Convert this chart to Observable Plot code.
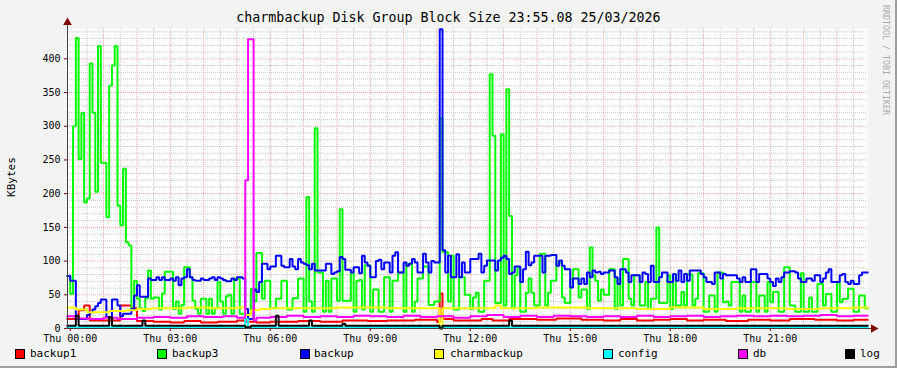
<!DOCTYPE html>
<html><head><meta charset="utf-8">
<script src="https://cdn.jsdelivr.net/npm/d3@7"></script>
<script src="https://cdn.jsdelivr.net/npm/@observablehq/plot@0.6"></script>
<style>
html,body{margin:0;padding:0;background:#f3f3f3;}
#wrap{position:relative;width:897px;height:368px;background:#f3f3f3;overflow:hidden;font-family:"DejaVu Sans Mono",monospace;color:#000;}
#chart{position:absolute;left:0;top:0;}
#title{position:absolute;left:0;top:10px;width:897px;text-align:center;font-size:13.3px;line-height:16px;white-space:pre;}
#ylab{position:absolute;left:11px;top:177px;font-size:11px;transform:translate(-50%,-50%) rotate(-90deg);white-space:pre;}
#rrd{position:absolute;left:886px;top:60px;font-size:8.3px;color:#ababab;transform:translate(-50%,-50%) rotate(90deg);white-space:pre;}
.sq{position:absolute;top:349px;width:8px;height:8px;border:1px solid #000;}
.lt{position:absolute;top:346px;font-size:11px;line-height:16px;white-space:pre;}
#bb{position:absolute;left:0;top:366px;width:897px;height:2px;background:#9e9e9e;}
#rb{position:absolute;left:895px;top:0;width:2px;height:368px;background:#9e9e9e;}
</style></head><body>
<div id="wrap">
  <div id="chart"></div>
  <div id="title">charmbackup Disk Group Block Size 23:55.08 25/03/2026</div>
  <div id="ylab">KBytes</div>
  <div id="rrd">RRDTOOL / TOBI OETIKER</div>
  <div id="legend"></div>
  <div id="bb"></div><div id="rb"></div>
</div>
<script>
// ---------- DATA ----------
// 5-minute samples, first covers 23:55-00:00, then one row per hour
const backup3 = [78,
 51,300,431,251,320,187,193,393,320,203,419,246,
 246,165,360,390,419,182,153,237,128,123,29,71,
 44,30,26,45,86,44,46,46,28,52,84,84,
 84,29,40,22,35,91,91,76,41,29,22,44,
 44,22,44,22,30,69,40,22,48,50,22,74,
 74,22,22,20,22,59,40,112,112,44,71,71,
 30,30,44,44,71,71,28,28,45,45,74,74,
 25,195,40,25,297,83,83,25,71,25,74,74,
 41,177,41,41,41,83,25,71,72,28,94,94,
 25,58,58,25,25,76,76,25,71,71,83,83,
 25,96,96,25,40,74,74,92,92,35,35,40,
 40,312,113,113,40,108,28,28,76,76,50,50,
 29,46,53,25,25,71,71,377,286,38,38,288,
 34,355,167,30,79,91,25,25,53,74,53,34,
 34,111,111,34,53,71,71,98,98,46,38,38,
 74,88,88,46,58,58,29,120,79,71,41,58,
 50,50,88,88,29,74,34,103,103,44,34,79,
 79,34,34,69,29,44,44,150,38,38,38,79,
 29,80,34,34,54,34,80,80,34,44,82,82,
 25,25,49,49,25,83,83,39,40,34,69,69,
 69,25,49,25,25,69,69,25,49,49,25,69,
 39,54,54,25,25,91,91,34,34,25,25,82,
 25,25,46,25,25,66,66,34,51,51,25,25,
 69,39,44,44,59,59,25,25,49,49,30];

const backup = [78,
 71,71,14,14,14,14,20,24,28,33,38,43,
 43,17,17,43,43,34,18,22,22,22,29,49,
 64,47,47,47,74,72,72,76,72,76,72,72,
 74,71,76,64,74,76,88,76,72,71,71,74,
 72,72,74,76,72,76,74,72,70,70,74,72,
 76,76,74,29,14,14,58,54,69,96,96,88,
 92,92,108,108,93,91,91,103,92,88,103,98,
 96,94,88,96,86,86,86,86,96,96,81,83,
 85,106,103,87,87,83,91,91,82,108,98,93,
 76,76,100,102,88,98,98,83,108,113,83,83,
 98,93,96,103,98,83,83,111,98,83,100,98,
 98,444,116,83,108,76,76,110,76,98,83,83,
 103,103,103,111,83,93,101,101,101,86,101,105,
 108,103,81,83,92,92,69,88,114,94,98,108,
 108,108,83,108,108,109,109,93,101,93,88,88,
 61,74,74,66,74,66,83,76,86,83,84,81,
 83,83,86,86,76,66,88,88,83,69,79,79,
 79,69,83,81,69,93,69,69,76,83,83,69,
 69,81,71,86,69,81,71,86,86,86,86,81,
 76,69,69,66,83,83,74,81,79,79,79,79,
 74,69,76,69,69,88,88,69,81,81,81,74,
 69,63,74,69,76,83,83,85,85,83,74,69,
 69,74,74,71,79,79,69,74,83,88,69,69,
 69,79,81,69,66,71,66,66,79,83,83];

// change points (minutes after 00:00) and values for the low series
const backup1Min = [-5,15,25,35,90,110,120,150,180,205,235,265,300,315,335,360,410,450,490,535,570,620,660,665,670,690,740,760,790,840,875,920,960,990,1020,1050,1080,1110,1140,1180,1220,1260,1295,1340,1380,1410];
const backup1Val = [14,27,34,12,34,30,11,10,9,11,9,10,12,10,9,10,11,10,12,11,12,13,10,52,14,12,14,12,14,13,15,13,12,14,12,13,14,12,13,11,13,12,14,13,12,13];

const charmMin = [-5,10,30,70,100,120,145,210,250,300,315,325,340,360,480,570,665,670,765,775,840,930,1020,1080,1140,1200,1290,1350,1410];
const charmVal = [31,28,24,26,27,29,30,31,30,31,20,27,29,30,31,30,0,30,34,30,31,30,29,31,29,30,29,30,31];

const configMin = [-5,315,320];
const configVal = [1.5,14,1.5];

const dbMin = [-5,10,35,60,85,120,150,180,210,240,275,300,315,320,330,335,360,390,420,450,480,510,540,570,600,630,660,690,720,750,780,810,840,870,900,930,960,990,1020,1050,1080,1110,1140,1170,1200,1230,1260,1290,1320,1350,1380,1410];
const dbVal = [18,15,14,16,14,16,17,16,18,17,18,16,220,429,12,16,17,19,17,18,17,19,18,17,19,17,18,16,18,20,17,19,17,19,18,17,18,17,19,17,18,19,17,18,19,18,19,18,19,20,18,19];

const logMin = [-5,10,15,70,75,130,135,315,325,370,375,430,435,490,495,665,670,790,795];
const logVal = [4,19,4,17,4,12,4,2,4,19,4,12,4,7,4,0,4,12,4];

const seriesNames = ["backup1","backup3","backup","charmbackup","config","db","log"];
const seriesColors = ["#ff0000","#00ff00","#0000ff","#ffff00","#00ffff","#ff00ff","#000000"];
const xTickHours = [0,3,6,9,12,15,18,21];
const yTicks = [0,50,100,150,200,250,300,350,400];

// ---------- BUILD ----------
const T0 = -5/60, T1 = 23 + 55/60;
function regular(vals){
  const p = vals.map((v,i)=>({x:T0 + i*5/60, y:v}));
  p.push({x:T1, y:vals[vals.length-1]});
  return p;
}
function changes(mins, vals){
  const p = mins.map((m,i)=>({x:m/60, y:vals[i]}));
  p.push({x:T1, y:vals[vals.length-1]});
  return p;
}
const seriesData = [
  changes(backup1Min, backup1Val),
  regular(backup3),
  regular(backup),
  changes(charmMin, charmVal),
  changes(configMin, configVal),
  changes(dbMin, dbVal),
  changes(logMin, logVal)
];

const yMinor = d3.range(10, 445, 10).filter(v => v % 50 !== 0);
const yMajor = d3.range(50, 445, 50);
const xMinor = d3.range(0.5, 24, 1);
const xMajor = d3.range(1, 24, 1);

const lineMarks = seriesData.map((d,i) => Plot.line(d, {
  x:"x", y:"y", stroke: seriesColors[i], strokeWidth: 2,
  curve:"step-after", strokeLinejoin:"miter", strokeLinecap:"square"
}));

const chart = Plot.plot({
  width: 897, height: 345,
  marginLeft: 67, marginRight: 30, marginTop: 28, marginBottom: 17,
  style: {background:"transparent", fontFamily:"DejaVu Sans Mono, monospace", fontSize:"10px", color:"#000", overflow:"visible"},
  x: {domain:[T0, T1]},
  y: {domain:[0, 445]},
  marks: [
    Plot.frame({fill:"#ffffff", stroke:"none"}),
    Plot.ruleY(yMinor, {stroke:"#c6c6c6", strokeDasharray:"1,1"}),
    Plot.ruleX(xMinor, {stroke:"#c6c6c6", strokeDasharray:"1,1"}),
    Plot.ruleY(yMajor, {stroke:"#f3a6a6", strokeDasharray:"1,1"}),
    Plot.ruleX(xMajor, {stroke:"#f3a6a6", strokeDasharray:"1,1"}),
    ...lineMarks,
    Plot.ruleX([T0], {y1:0, y2:452, stroke:"#404040"}),
    Plot.ruleY([0], {x1:T0, x2:T1+0.15, stroke:"#404040"}),
    Plot.dot([0], {x:()=>T0, y:()=>454, symbol:"triangle", r:3.2, fill:"#800000", stroke:"none"}),
    Plot.dot([0], {x:()=>T1+0.18, y:()=>0, symbol:"triangle", r:3.2, fill:"#800000", stroke:"none", rotate:90}),
    Plot.axisY(yTicks, {tickSize:3, tickPadding:4, label:null, stroke:"#800000"}),
    Plot.axisX(xTickHours, {tickSize:3, tickPadding:3, label:null, stroke:"#800000",
      tickFormat: h => `Thu ${String(h).padStart(2,"0")}:00`})
  ]
});
document.getElementById("chart").appendChild(chart);

// legend
const sqX = [15,157,300,434,603,738,845];
const txX = [30,172,314,450,618,753,860];
const leg = document.getElementById("legend");
seriesNames.forEach((n,i) => {
  const s = document.createElement("div");
  s.className = "sq"; s.style.left = sqX[i] + "px"; s.style.background = seriesColors[i];
  const t = document.createElement("div");
  t.className = "lt"; t.style.left = txX[i] + "px"; t.textContent = n;
  leg.appendChild(s); leg.appendChild(t);
});
</script>
</body></html>
